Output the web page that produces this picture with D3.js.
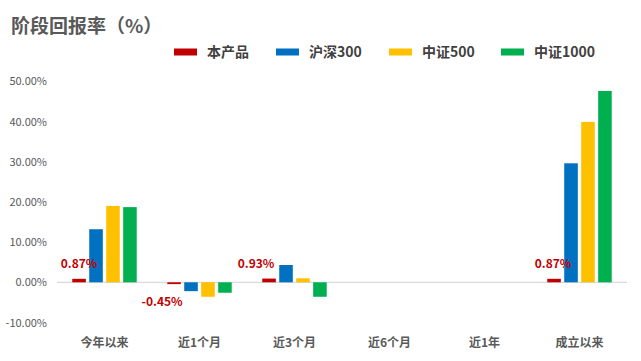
<!DOCTYPE html>
<html>
<head>
<meta charset="utf-8">
<script src="https://cdn.jsdelivr.net/npm/d3@7"></script>
<style>
  body { margin: 0; background: #fff; }
  text { font-family: "Noto Sans CJK SC", "Noto Sans", sans-serif; }
</style>
</head>
<body>
<svg id="chart" width="641" height="361"></svg>
<script>
// categories and series
const periods = ['今年以来', '近1个月', '近3个月', '近6个月', '近1年', '成立以来'];
const seriesNames = ['本产品', '沪深300', '中证500', '中证1000'];
const seriesColors = ['#c00000', '#0070c0', '#ffc000', '#00b050'];

// values in %, null = no data
const product = [0.87, -0.45, 0.93, null, null, 0.87];
const hs300 = [13.2, -2.2, 4.3, null, null, 29.6];
const zz500 = [19.0, -3.6, 1.0, null, null, 39.9];
const zz1000 = [18.7, -2.6, -3.6, null, null, 47.6];
const yTicks = [-10, 0, 10, 20, 30, 40, 50];

const allSeries = [product, hs300, zz500, zz1000];

const svg = d3.select('#chart');
const left = 57, right = 627;

const x = d3.scaleBand().domain(periods).range([left, right]).padding(0);
const xSub = d3.scaleBand().domain(seriesNames).range([0, x.bandwidth()])
    .paddingInner(0.2).paddingOuter(0.9);
const y = d3.scaleLinear().domain([-10, 50]).range([322.5, 81.3]);

const pct = d => d.toFixed(2) + '%';

// title
svg.append('text')
    .attr('x', 11).attr('y', 33)
    .text('阶段回报率（%）')
    .style('font-size', '19px')
    .style('font-weight', 'bold')
    .style('fill', '#595959');

// legend
const legendX = [174, 276, 389, 501];
seriesNames.forEach((name, i) => {
  svg.append('rect')
      .attr('x', legendX[i]).attr('y', 48.5)
      .attr('width', 23).attr('height', 7)
      .attr('fill', seriesColors[i]);
  svg.append('text')
      .attr('x', legendX[i] + 33).attr('y', 57)
      .text(name)
      .style('font-size', '14px')
      .style('font-weight', 'bold')
      .style('fill', '#404040');
});

// y axis labels
const yAxis = d3.axisLeft(y).tickValues(yTicks)
    .tickFormat(pct)
    .tickSize(0).tickPadding(0);
const yG = svg.append('g').attr('transform', 'translate(47,0)').call(yAxis);
yG.select('.domain').remove();
yG.selectAll('text')
    .style('font-size', '11px')
    .style('fill', '#595959')
    .style('font-family', '"Noto Sans CJK SC", sans-serif');

// zero line
svg.append('line')
    .attr('x1', left).attr('x2', right)
    .attr('y1', y(0)).attr('y2', y(0))
    .attr('stroke', '#d9d9d9').attr('stroke-width', 1.3);

// bars
const groups = svg.selectAll('.group')
    .data(periods)
    .enter().append('g')
    .attr('class', 'group')
    .attr('transform', d => `translate(${x(d)},0)`);

groups.each(function (p, pi) {
  const g = d3.select(this);
  seriesNames.forEach((name, si) => {
    const v = allSeries[si][pi];
    if (v === null) return;
    g.append('rect')
        .attr('x', xSub(name))
        .attr('width', xSub.bandwidth())
        .attr('y', Math.min(y(v), y(0)))
        .attr('height', Math.abs(y(v) - y(0)))
        .attr('fill', seriesColors[si]);
  });
});

// data labels for the product series
const labelNudge = [0, -12, -13, 0, 0, -1];
product.forEach((v, i) => {
  if (v === null) return;
  const cx = x(periods[i]) + xSub(seriesNames[0]) + xSub.bandwidth() / 2 + labelNudge[i];
  const cy = v >= 0 ? y(v) - 11 : y(v) + 22;
  svg.append('text')
      .attr('x', cx).attr('y', cy)
      .attr('text-anchor', 'middle')
      .text(pct(v))
      .style('font-size', '12px')
      .style('font-weight', 'bold')
      .style('fill', '#c00000');
});

// x labels
periods.forEach(p => {
  svg.append('text')
      .attr('x', x(p) + x.bandwidth() / 2).attr('y', 347)
      .attr('text-anchor', 'middle')
      .text(p)
      .style('font-size', '12px')
      .style('font-weight', 'bold')
      .style('fill', '#595959');
});
</script>
</body>
</html>
